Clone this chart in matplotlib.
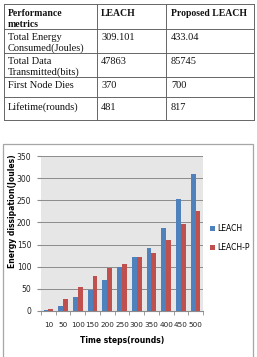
import numpy as np
import matplotlib.pyplot as plt
from matplotlib.patches import Rectangle

# table data
headers = ['Performance\nmetrics', 'LEACH', 'Proposed LEACH']
metrics = ['Total Energy\nConsumed(Joules)', 'Total Data\nTransmitted(bits)', 'First Node Dies', 'Lifetime(rounds)']
leach_vals = ['309.101', '47863', '370', '481']
proposed_vals = ['433.04', '85745', '700', '817']

# chart data
rounds = ['10', '50', '100', '150', '200', '250', '300', '350', '400', '450', '500']
leach = [2, 12, 31, 47, 70, 99, 121, 143, 187, 253, 310]
leach_p = [5, 27, 54, 80, 97, 106, 121, 132, 160, 196, 226]

W, H = 257, 357
fig = plt.figure(figsize=(W / 100, H / 100), dpi=100)

# background axes in pixel coords
bg = fig.add_axes([0, 0, 1, 1])
bg.set_xlim(0, W)
bg.set_ylim(H, 0)
bg.axis('off')

# table grid
col_x = [4, 97, 166, 254]
row_y = [4, 29, 53, 77, 97, 120]
lc = '#666666'
for x in col_x:
    bg.plot([x, x], [row_y[0], row_y[-1]], color=lc, lw=0.7)
for y in row_y:
    bg.plot([col_x[0], col_x[-1]], [y, y], color=lc, lw=0.7)

serif = 'Liberation Serif'
line_gap = 11.5
text_x = [8, 101, 171]
row_centers = [13, 37, 61, 85, 107]


def put(x, y, s, bold=False):
    for k, part in enumerate(s.split('\n')):
        bg.text(x, y + k * line_gap, part, fontsize=7.0 if bold else 7.5, family=serif,
                fontweight='bold' if bold else 'normal', va='center', ha='left', color='#111111')


for j, h in enumerate(headers):
    put(text_x[j], row_centers[0], h, bold=True)
for i in range(len(metrics)):
    put(text_x[0], row_centers[i + 1], metrics[i])
    put(text_x[1], row_centers[i + 1], leach_vals[i])
    put(text_x[2], row_centers[i + 1], proposed_vals[i])

# chart frame
bg.add_patch(Rectangle((3, 144), 250, 220, fill=False, edgecolor='#a6a6a6', lw=0.9))

narrow = ['Liberation Sans Narrow', 'DejaVu Sans']

# bar chart
ax = fig.add_axes([41 / W, 1 - 311 / H, 162 / W, 155 / H])
ax.set_facecolor('#e6e6e6')
x = np.arange(len(rounds))
w = 0.33
ax.bar(x - w / 2, leach, w, color='#4f81bd', label='LEACH', zorder=3)
ax.bar(x + w / 2, leach_p, w, color='#c0504d', label='LEACH-P', zorder=3)
ax.set_xlim(-0.5, len(rounds) - 0.5)
ax.set_ylim(0, 350)
ax.set_yticks(np.arange(0, 351, 50))
ax.yaxis.grid(True, color='#8c8c8c', lw=0.7, zorder=0)
ax.set_axisbelow(True)
for s in ['top', 'right', 'left']:
    ax.spines[s].set_visible(False)
ax.spines['bottom'].set_color('#8c8c8c')
ax.set_xticks(x)
ax.set_xticklabels(rounds)
ax.set_xticks(np.arange(-0.5, len(rounds), 1), minor=True)
ax.tick_params(axis='x', which='major', length=0, labelsize=5.2, pad=8, labelcolor='#222222')
ax.tick_params(axis='x', which='minor', length=3, color='#8c8c8c')
ax.tick_params(axis='y', length=3, color='#8c8c8c', labelsize=5.5, pad=4, labelcolor='#222222')
for lab in ax.get_xticklabels() + ax.get_yticklabels():
    lab.set_family(narrow)
ax.set_xlabel('Time steps(rounds)', fontsize=5.5, fontweight='bold', labelpad=6, family=narrow)
ax.set_ylabel('Energy dissipation(Joules)', fontsize=5.5, fontweight='bold', family=narrow)
ax.yaxis.set_label_coords(-0.15, 0.645)
leg = ax.legend(loc='center left', bbox_to_anchor=(1.0, 0.47), frameon=False,
                prop={'family': narrow, 'size': 5.5},
                handlelength=0.7, handleheight=0.7, handletextpad=0.3, labelspacing=1.3)

fig.savefig('out.png', dpi=100)
